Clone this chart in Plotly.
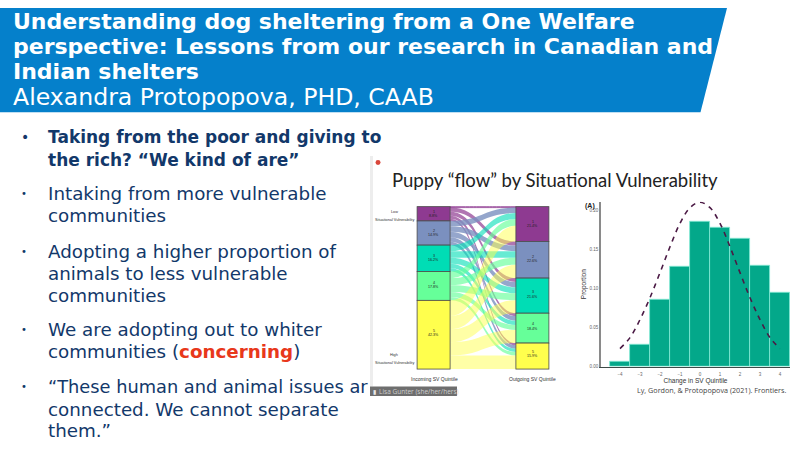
import plotly.graph_objects as go

W, H = 800, 458

# ---------- data ----------
flow_sources = [0] * 5 + [1] * 5 + [2] * 5 + [3] * 5 + [4] * 5
flow_targets = [5, 6, 7, 8, 9] * 5
flow_values = [
    0.6, 2.6, 2.4, 1.8, 1.4,
    3.3, 3.4, 3.3, 2.8, 2.1,
    3.8, 4.0, 3.7, 2.7, 2.0,
    4.1, 4.4, 4.2, 3.0, 2.1,
    9.6, 8.2, 8.0, 8.1, 8.4,
]
incoming_pct = [8.8, 14.9, 16.2, 17.8, 42.3]
outgoing_pct = [21.4, 22.6, 21.6, 18.4, 16.0]
outgoing_labels = ["21.4%", "22.6%", "21.6%", "18.4%", "15.9%"]
quintiles = ["1", "2", "3", "4", "5"]
node_colors = ["#8E3A91", "#7B90BF", "#00DDB5", "#66FF99", "#FFFF4D"]
link_colors = ["rgba(142,58,145,0.7)", "rgba(123,144,191,0.8)", "rgba(0,221,181,0.6)",
               "rgba(102,255,153,0.65)", "rgba(255,255,77,0.5)"]

change_x = [-4, -3, -2, -1, 0, 1, 2, 3, 4]
proportion = [0.006, 0.0283, 0.0858, 0.127, 0.185, 0.177, 0.163, 0.129, 0.0947]
curve_x = [-4, -3.5, -3, -2.5, -2, -1.5, -1, -0.5, 0, 0.5, 1, 1.5, 2, 2.5, 3, 3.5, 4]
curve_y = [0.023, 0.037, 0.060, 0.088, 0.120, 0.153, 0.183, 0.203, 0.210, 0.203,
           0.183, 0.153, 0.120, 0.088, 0.060, 0.037, 0.023]
y_ticks = [0, 0.05, 0.10, 0.15, 0.20]

title_lines = ["Understanding dog sheltering from a One Welfare",
               "perspective: Lessons from our research in Canadian and",
               "Indian shelters"]
author = "Alexandra Protopopova, PHD, CAAB"
NAVY = "#12386A"
bullet_rows = [
    (138, "<b>Taking from the poor and giving to</b>", 17.0, 14),
    (161, "<b>the rich? “We kind of are”</b>", 17.0, 0),
    (195, "Intaking from more vulnerable", 18.3, 10),
    (217, "communities", 18.3, 0),
    (253, "Adopting a higher proportion of", 18.3, 10),
    (275, "animals to less vulnerable", 18.3, 0),
    (297, "communities", 18.3, 0),
    (332, "We are adopting out to whiter", 18.3, 10),
    (354, "communities (<b><span style='color:#E8381B'>concerning</span></b>)", 18.3, 0),
    (389, "“These human and animal issues ar", 17.8, 10),
    (412, "connected. We cannot separate", 18.3, 0),
    (433, "them.”", 18.3, 0),
]

# ---------- helpers ----------
def px(x): return x / W
def py(y): return 1 - y / H

annotations = []
def text(x, y, s, size, color="#333", family="DejaVu Sans", anchor="left", angle=0):
    annotations.append(dict(x=px(x), y=py(y), xref="paper", yref="paper", text=s,
                            showarrow=False, xanchor=anchor, yanchor="middle", textangle=angle,
                            align=anchor,
                            font=dict(size=size, color=color, family=family),
                            borderpad=0, borderwidth=0))

shapes = [
    dict(type="path", xref="paper", yref="paper", layer="below", line=dict(width=0), fillcolor="#0580CB",
         path=f"M 0 {py(8)} L {px(727)} {py(8)} L {px(700.5)} {py(113)} L 0 {py(113)} Z"),
    dict(type="rect", xref="paper", yref="paper", layer="below", line=dict(width=0), fillcolor="#EDEDED",
         x0=px(370), x1=px(373), y0=py(389), y1=py(157)),
    dict(type="circle", xref="paper", yref="paper", layer="below", line=dict(width=0), fillcolor="#D9463B",
         x0=px(375.5), x1=px(380.5), y0=py(166), y1=py(161)),
    dict(type="rect", xref="paper", yref="paper", layer="below", line=dict(width=0), fillcolor="#6E6E6E",
         x0=px(370), x1=px(457), y0=py(398.5), y1=py(389)),
]

# ---------- slide text ----------
for y, s in zip([22, 47, 72], title_lines):
    text(13, y, f"<b>{s}</b>", 22.0, "#FFFFFF")
text(13, 98, author, 23.6, "#FFFFFF")
for y, s, size, bullet in bullet_rows:
    text(48, y, s, size, NAVY)
    if bullet:
        text(21, y, "•", bullet, NAVY)
text(392, 181, "Puppy “flow” by Situational Vulnerability", 18.5, "#222222", family="Lato")
text(379, 393.7, "Lisa Gunter (she/her/hers)", 6.5, "#CFCFCF", family="Open Sans")
text(373, 393.7, "▮", 6, "#E8E8E8")
text(637, 393, "Ly, Gordon, &amp; Protopopova (2021). Frontiers.", 7.2, "#444444", family="Open Sans")

# ---------- sankey ----------
def cumulative_centres(vals):
    total, out = 0, []
    for v in vals:
        out.append((total + v / 2) / sum(vals))
        total += v
    return out

left_c = cumulative_centres(incoming_pct)
right_c = cumulative_centres(outgoing_pct)
S_TOP, S_BOT = 208, 369

fig = go.Figure()
fig.add_trace(go.Sankey(
    arrangement="fixed",
    domain=dict(x=[px(433.5), px(532.5)], y=[py(S_BOT + 2.5), py(S_TOP)]),
    node=dict(label=[""] * 10, pad=0, thickness=33,
              x=[0.001] * 5 + [0.999] * 5, y=left_c + right_c,
              color=node_colors * 2, line=dict(color="#4A4A4A", width=0.8)),
    link=dict(source=flow_sources, target=flow_targets, value=flow_values,
              color=[link_colors[s] for s in flow_sources]),
))
for c, q, v in zip(left_c, quintiles, incoming_pct):
    y = S_TOP + c * (S_BOT - S_TOP)
    text(433.5, y - 2, q, 3.6, "#222", "Liberation Sans", "center")
    text(433.5, y + 2.5, f"{v}%", 3.6, "#222", "Liberation Sans", "center")
for c, q, v in zip(right_c, quintiles, outgoing_labels):
    y = S_TOP + c * (S_BOT - S_TOP)
    text(532.5, y - 2, q, 3.6, "#222", "Liberation Sans", "center")
    text(532.5, y + 2.5, v, 3.6, "#222", "Liberation Sans", "center")
text(394, 213.5, "Low", 3.8, "#333", "Liberation Sans", "center")
text(394, 221.5, "Situational Vulnerability", 3.8, "#333", "Liberation Sans", "center")
text(394, 357, "High", 3.8, "#333", "Liberation Sans", "center")
text(394, 365, "Situational Vulnerability", 3.8, "#333", "Liberation Sans", "center")
text(434, 381, "Incoming SV Quintile", 5, "#333", "Liberation Sans", "center")
text(532, 381, "Outgoing SV Quintile", 5, "#333", "Liberation Sans", "center")

# ---------- histogram ----------
fig.add_trace(go.Bar(x=change_x, y=proportion, width=1, marker=dict(color="#03A88A", line=dict(color="#86EBD6", width=0.8))))
fig.add_trace(go.Scatter(x=curve_x, y=curve_y, mode="lines",
                         line=dict(color="#4B1A45", width=1.6, dash="5px,5px", shape="spline")))

text(585, 207, "<b>(A)</b>", 7, "#222", "Liberation Sans")
fig.update_layout(
    width=W, height=H, margin=dict(l=0, r=0, t=0, b=0, pad=0),
    paper_bgcolor="#FFFFFF", plot_bgcolor="rgba(0,0,0,0)",
    showlegend=False, shapes=shapes, annotations=annotations, bargap=0,
    xaxis=dict(domain=[px(601), px(790)], range=[(601 - 700) / 20, (790 - 700) / 20],
               tickvals=change_x, showgrid=False, zeroline=False, ticks="", ticklabelstandoff=3,
               tickfont=dict(size=4.5, color="#666", family="Liberation Sans"),
               showline=True, linecolor="#3E4A48", linewidth=1, anchor="y",
               title=dict(text="Change in SV Quintile", standoff=0,
                          font=dict(size=6.5, color="#333", family="Liberation Sans"))),
    yaxis=dict(domain=[py(369), py(203)], range=[0, (369 - 203) / 788],
               tickvals=y_ticks, tickformat=".2f", showgrid=False, zeroline=False, ticks="",
               tickfont=dict(size=4.5, color="#666", family="Liberation Sans"),
               showline=True, linecolor="#8A8A8A", linewidth=1.5, anchor="x",
               title=dict(text="Proportion", standoff=2,
                          font=dict(size=6.5, color="#333", family="Liberation Sans"))),
)

fig.write_html("out.html", config={"displayModeBar": False},
               post_script="document.body.style.margin='0';")
